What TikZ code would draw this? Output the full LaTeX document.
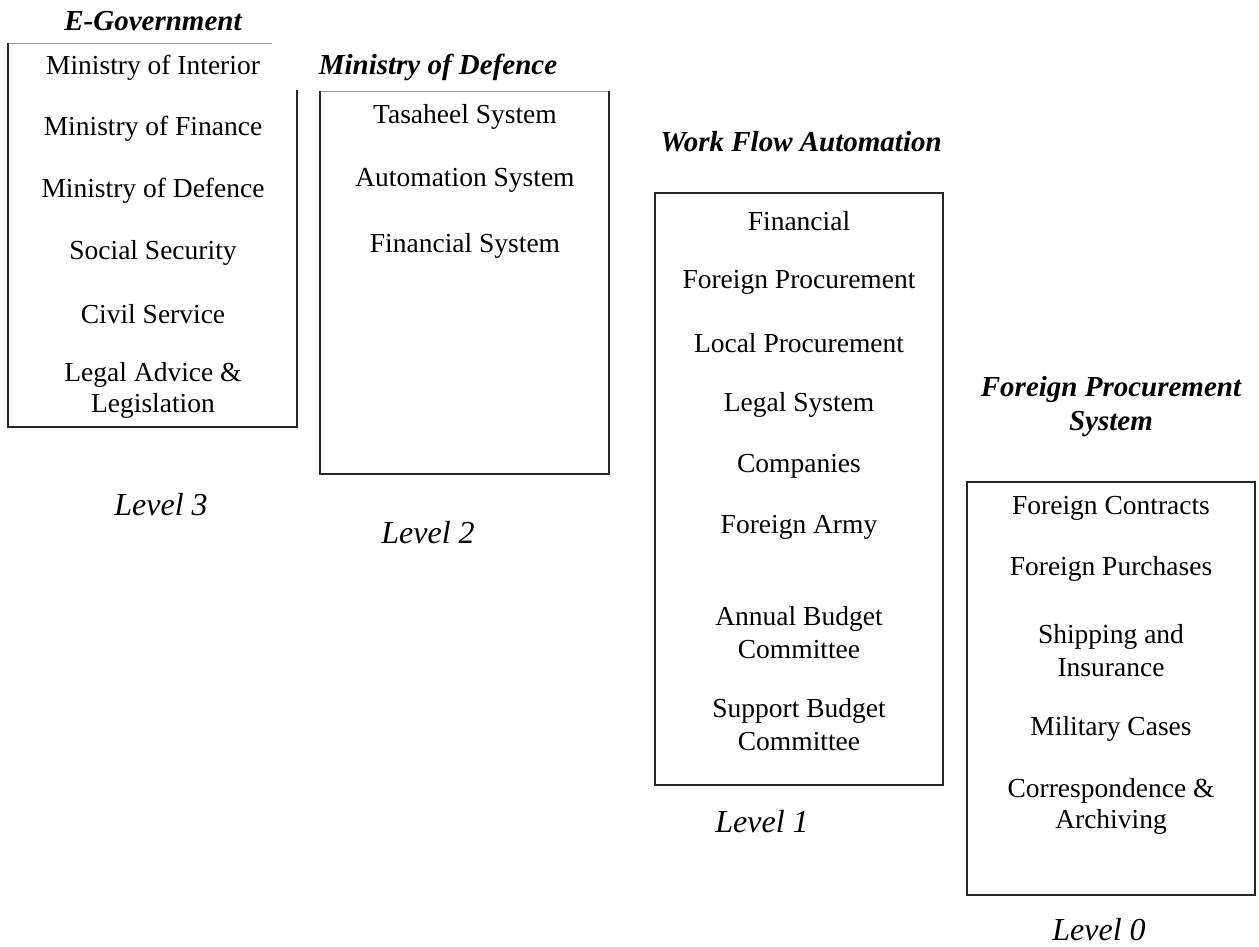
\documentclass[tikz,border=0pt]{standalone}
\usepackage{fontspec}
\setmainfont{Liberation Serif}
\begin{document}
\begin{tikzpicture}[x=1pt,y=-1pt,
  txt/.style={font=\fontsize{27.5}{31}\selectfont, inner sep=0pt, anchor=center},
  ttl/.style={font=\fontsize{29}{32}\selectfont\bfseries\itshape, inner sep=0pt, anchor=center},
  lvl/.style={font=\fontsize{32}{36}\selectfont\itshape, inner sep=0pt, anchor=center},
  frame/.style={line width=1.6pt, draw=black!85},
  thinedge/.style={line width=0.8pt, draw=black!40}]
\useasboundingbox (0,0) rectangle (1259,946);

% Level 3: E-Government
\node[ttl] (t3) at (153,21) {E-Government};
\draw[thinedge] (8,43) -- (272,43);
\draw[frame] (297,90) -- (297,427) -- (8,427) -- (8,43);
\node[txt] (a1) at (153,68) {Ministry of Interior};
\node[txt] (a2) at (153,129) {Ministry of Finance};
\node[txt] (a3) at (153,191) {Ministry of Defence};
\node[txt] (a4) at (153,253) {Social Security};
\node[txt] (a5) at (153,314) {Civil Service};
\node[txt] (a6) at (153,375) {Legal Advice \&};
\node[txt] (a7) at (153,406) {Legislation};
\node[lvl] (l3) at (161,505) {Level 3};

% Level 2: Ministry of Defence
\node[ttl] (t2) at (438,67) {Ministry of Defence};
\draw[thinedge] (320,91) -- (609,91);
\draw[frame] (609,91) -- (609,474) -- (320,474) -- (320,91);
\node[txt] (b1) at (465,117) {Tasaheel System};
\node[txt] (b2) at (465,180) {Automation System};
\node[txt] (b3) at (465,246) {Financial System};
\node[lvl] (l2) at (428,533) {Level 2};

% Level 1: Work Flow Automation
\node[ttl] (t1) at (801,142) {Work Flow Automation};
\draw[frame] (655,193) rectangle (943,785);
\node[txt] (c1) at (799,221) {Financial};
\node[txt] (c2) at (799,282) {Foreign Procurement};
\node[txt] (c3) at (799,343) {Local Procurement};
\node[txt] (c4) at (799,405) {Legal System};
\node[txt] (c5) at (799,466) {Companies};
\node[txt] (c6) at (799,527) {Foreign Army};
\node[txt] (c7) at (799,619) {Annual Budget};
\node[txt] (c8) at (799,650) {Committee};
\node[txt] (c9) at (799,711) {Support Budget};
\node[txt] (c10) at (799,742) {Committee};
\node[lvl] (l1) at (762,822) {Level 1};

% Level 0: Foreign Procurement System
\node[ttl] (t0a) at (1111,390) {Foreign Procurement};
\node[ttl] (t0b) at (1111,424) {System};
\draw[frame] (967,482) rectangle (1255,895);
\node[txt] (d1) at (1111,508) {Foreign Contracts};
\node[txt] (d2) at (1111,569) {Foreign Purchases};
\node[txt] (d3) at (1111,637) {Shipping and};
\node[txt] (d4) at (1111,668) {Insurance};
\node[txt] (d5) at (1111,729) {Military Cases};
\node[txt] (d6) at (1111,791) {Correspondence \&};
\node[txt] (d7) at (1111,822) {Archiving};
\node[lvl] (l0) at (1099,930) {Level 0};
\end{tikzpicture}
\end{document}
